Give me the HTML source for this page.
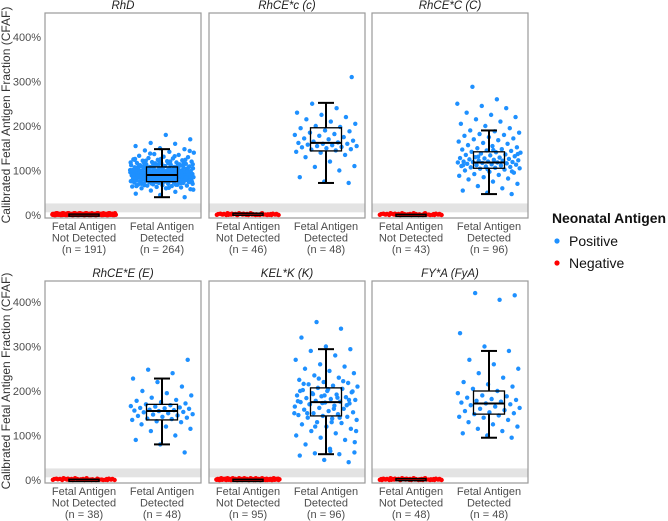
<!DOCTYPE html>
<html><head><meta charset="utf-8"><style>
html,body{margin:0;padding:0;background:#fff;}
svg{display:block;font-family:"Liberation Sans",sans-serif;}
</style></head><body>
<svg id="chart" width="668" height="521" viewBox="0 0 668 521" xmlns="http://www.w3.org/2000/svg">
<text x="10" y="115" transform="rotate(-90 10 115)" text-anchor="middle" font-size="12" fill="#333">Calibrated Fetal Antigen Fraction (CFAF)</text>
<text x="10" y="381" transform="rotate(-90 10 381)" text-anchor="middle" font-size="12" fill="#333">Calibrated Fetal Antigen Fraction (CFAF)</text>
<g>
<text x="552" y="223" font-size="14" font-weight="bold" fill="#111" textLength="114" lengthAdjust="spacingAndGlyphs">Neonatal Antigen</text>
<circle cx="557" cy="241" r="2.6" fill="#1E90FF"/>
<text x="569" y="246" font-size="14" fill="#111">Positive</text>
<circle cx="557" cy="263" r="2.6" fill="#FF0000"/>
<text x="569" y="268" font-size="14" fill="#111">Negative</text>
</g>
</svg>
<script>
const panelTitles = ["RhD","RhCE*c (c)","RhCE*C (C)","RhCE*E (E)","KEL*K (K)","FY*A (FyA)"];
const negCounts = [191,46,43,38,95,48];
const posCounts = [264,48,96,48,96,48];
const yTicks = [0,100,200,300,400];
const yTickLabels = ["0%","100%","200%","300%","400%"];
// box stats: [whiskerLow, q1, median, q3, whiskerHigh]
const posBoxes = [
 [40,75,90,108,148],[72,144,162,196,252],[47,105,118,142,190],
 [80,135,155,170,228],[58,144,175,207,294],[95,148,172,200,290]];
const negBoxes = [[0,1,1.5,2,3],[1,2,3,4,5],[0,0.5,1,1.5,2],[0,0.5,1,1.5,2],[0,0.5,1,1.5,2],[0,1,2,3,4]];
const posRhD = [40,45,48,52,55,58,60,60,62,63,64,65,66,66,67,68,68,69,70,70,71,72,72,73,73,74,74,75,75,75,76,76,77,77,78,78,78,79,79,80,80,80,81,81,82,82,82,83,83,84,84,84,85,85,85,86,86,86,87,87,87,88,88,88,89,89,89,90,90,90,90,91,91,91,92,92,92,93,93,93,94,94,94,95,95,95,96,96,96,97,97,98,98,98,99,99,100,100,100,101,101,102,102,103,103,104,104,105,105,106,106,107,107,108,108,109,110,110,111,112,112,113,114,115,116,117,118,119,120,121,122,123,124,125,127,128,130,131,133,135,137,140,142,145,148,150,155,160,162,170,180,
 70,72,74,76,78,80,82,84,86,88,90,92,94,96,98,100,102,104,106,108,110,112,114,116,118,120,122,124,126,65,68,71,77,79,83,87,89,91,93,95,97,99,101,103,105,57,61,67,115,119,126,132,138,144,86,88,90,92,94,80,82,84,96,98,100,73,75,77,109,111,113,85,87,89,91,93,95,97,99,101,103,105,78,80,82,84,86,88,90,92,94,96,98,100,102,104,106,108,110,112,114,116,118,120,122,124];
const posC = [72,75,85,100,108,110,120,130,135,140,142,145,147,148,150,152,153,155,155,157,158,160,160,162,163,165,167,170,172,175,178,180,182,185,188,190,195,198,200,205,210,215,220,225,230,240,250,310];
const posBigC = [47,50,55,60,65,70,75,80,82,85,88,90,92,95,97,100,102,104,105,106,107,108,109,110,111,112,113,114,115,116,117,118,118,119,119,120,120,121,122,123,124,125,126,127,128,129,130,132,134,135,136,138,140,141,142,144,145,147,148,150,152,155,157,160,162,165,168,170,172,175,178,180,182,185,188,190,195,200,205,210,215,220,225,230,240,245,250,260,288,98,103,112,122,131,137,146];
const posE = [62,80,90,100,110,115,120,125,130,132,135,137,138,140,142,144,145,147,148,150,152,153,155,156,157,158,160,161,162,163,165,166,168,170,172,175,178,180,185,190,195,200,210,220,228,240,248,270];
const posK = [40,45,55,58,60,62,70,80,90,95,100,105,110,115,120,125,128,130,135,138,140,142,144,146,148,150,152,155,158,160,162,165,167,170,172,174,175,176,178,180,182,184,186,188,190,192,195,197,200,202,205,207,210,212,215,218,220,225,230,235,240,245,250,255,260,270,280,290,294,300,320,340,355,110,130,150,168,173,177,185,193,199,204,216,222,228,150,160,170,180,190,200,140,120,85,65];
const posF = [95,100,105,110,115,120,125,130,135,140,142,145,148,150,152,155,157,160,162,165,168,170,172,174,176,178,180,182,185,188,190,195,200,205,210,215,220,230,240,250,260,270,290,300,330,405,420,415];
const negVals = n => { const a=[]; for(let i=0;i<n;i++) a.push([0,1,2,0.5,1.5,3,0,2.5,1,4][i%10]); return a; };
const posSeries = [posRhD,posC,posBigC,posE,posK,posF];

const svg = document.getElementById('chart');
const NS = 'http://www.w3.org/2000/svg';
function mk(tag, attrs){ const e=document.createElementNS(NS,tag); for(const k in attrs) e.setAttribute(k,attrs[k]); svg.appendChild(e); return e; }
const panelX = [45,209,372], panelW = 156;
const rows = [{top:13,bot:218,zero:215},{top:281,bot:483,zero:480}];
const pxPer = 44.5/100;
function frac(i){ const v=(i*0.61803398875)%1; return v; }

for(let p=0;p<6;p++){
  const r = rows[Math.floor(p/3)], x0 = panelX[p%3];
  const y = v => r.zero - v*pxPer;
  const cx = [x0+panelW*0.25, x0+panelW*0.75];
  let e = mk('rect',{x:x0,y:y(26),width:panelW,height:y(6)-y(26),fill:'#e3e3e3'});
   
  e = mk('rect',{x:x0,y:r.top,width:panelW,height:r.bot-r.top,fill:'none',stroke:'#9a9a9a','stroke-width':1.2});
   
  e = mk('text',{x:x0+panelW/2,y:r.top-4,'text-anchor':'middle','font-size':11.5,'font-style':'italic',fill:'#222'});
  e.textContent = panelTitles[p];
   
  if(p%3===0){
    yTicks.forEach((t,i)=>{
      const tl = mk('text',{x:x0-4,y:y(t)+4,'text-anchor':'end','font-size':11,fill:'#4d4d4d'});
      tl.textContent = yTickLabels[i];
       
    });
  }
  const cats = [["Fetal Antigen","Not Detected","(n = "+negCounts[p]+")"],["Fetal Antigen","Detected","(n = "+posCounts[p]+")"]];
  cats.forEach((c,ci)=>{
    c.forEach((ln,li)=>{
      const t = mk('text',{x:cx[ci],y:r.bot+12+li*11.5,'text-anchor':'middle','font-size':11,fill:'#4d4d4d'});
      t.textContent = ln;
       
    });
  });
  const neg = negVals(negCounts[p]);
  neg.forEach((v,i)=>{
    const c = mk('circle',{cx:cx[0]+(frac(i+1)-0.5)*64,cy:y(v),r:2.2,fill:'#FF0000'});
     
  });
  const nb = negBoxes[p];
  e = mk('rect',{x:cx[0]-15,y:y(nb[3]),width:30,height:Math.max(2,y(nb[1])-y(nb[3])),fill:'none',stroke:'#000','stroke-width':1.5});
   
  posSeries[p].forEach((v,i)=>{
    const c = mk('circle',{cx:cx[1]+(frac(i+3)-0.5)*64,cy:y(v),r:2.2,fill:'#1E90FF'});
     
  });
  const b = posBoxes[p];
  const bw = 31;
  const parts = [
    ['line',{x1:cx[1],x2:cx[1],y1:y(b[0]),y2:y(b[1])},'whisker-low'],
    ['line',{x1:cx[1],x2:cx[1],y1:y(b[3]),y2:y(b[4])},'whisker-high'],
    ['line',{x1:cx[1]-8,x2:cx[1]+8,y1:y(b[0]),y2:y(b[0])},'whisker-cap-low'],
    ['line',{x1:cx[1]-8,x2:cx[1]+8,y1:y(b[4]),y2:y(b[4])},'whisker-cap-high'],
    ['rect',{x:cx[1]-bw/2,y:y(b[3]),width:bw,height:y(b[1])-y(b[3]),fill:'none'},'positive-box'],
    ['line',{x1:cx[1]-bw/2,x2:cx[1]+bw/2,y1:y(b[2]),y2:y(b[2])},'median-line']];
  parts.forEach(([tag,at,nm])=>{
    at.stroke='#000'; at['stroke-width']= tag==='rect'?1.3:2;
    const el = mk(tag,at);
    
    
  });
}
</script>
</body></html>
